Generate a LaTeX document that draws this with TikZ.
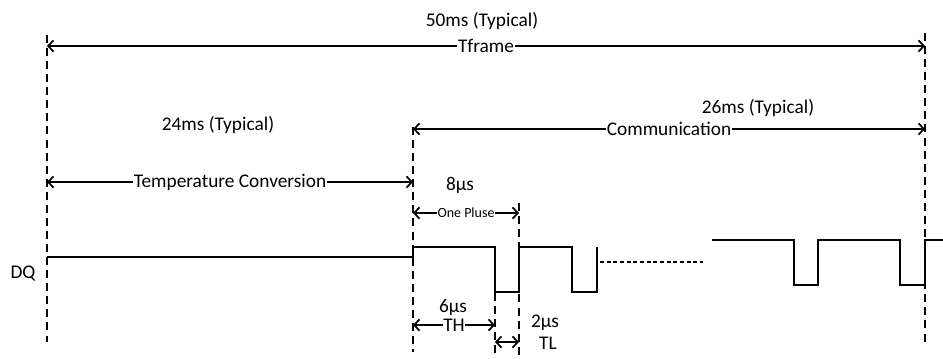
\documentclass[tikz,border=0pt]{standalone}
\usepackage{fontspec}
\setmainfont{Carlito}
\usetikzlibrary{arrows.meta,positioning,calc}
\tikzset{
  guide/.style={line width=1.5pt, dash pattern=on 6pt off 3.8pt},
  dimline/.style={{Straight Barb[length=1.4mm,width=3mm]}-{Straight Barb[length=1.4mm,width=3mm]}, line width=1.3pt},
  dimlabel/.style={fill=white, inner sep=0.5pt, font=\fontsize{14.5}{17}\selectfont},
  smalllabel/.style={fill=white, inner sep=0.5pt, font=\fontsize{10.5}{12.5}\selectfont},
  timetext/.style={inner sep=0pt, font=\fontsize{14.5}{17}\selectfont},
  signal/.style={line width=1.5pt, line join=miter},
  dotsignal/.style={line width=1.5pt, dash pattern=on 3pt off 2pt}
}

\begin{document}
\begin{tikzpicture}[x=0.75pt, y=-0.75pt]
\useasboundingbox (0,0) rectangle (943,358);

% guide lines
\coordinate (gAt) at (47,35);   \coordinate (gAb) at (47,342);
\coordinate (gBt) at (413,127); \coordinate (gBb) at (413,352);
\coordinate (gCt) at (519,203); \coordinate (gCb) at (519,358);
\coordinate (gDt) at (495,293); \coordinate (gDb) at (495,358);
\coordinate (gEt) at (925,33);  \coordinate (gEb) at (925,345);
\draw[guide] (gAt) -- (gAb);
\draw[guide] (gBt) -- (gBb);
\draw[guide] (gCt) -- (gCb);
\draw[guide] (gDt) -- (gDb);
\draw[guide] (gEt) -- (gEb);

% timing texts
\node[timetext] (t50) at (482,21) {50ms (Typical)};
\node[timetext] (t26) at (758,108) {26ms (Typical)};
\node[timetext] (t24) at (218,125) {24ms (Typical)};
\node[timetext] (t8) at (460,185) {8µs};
\node[timetext] (t6) at (453,308) {6µs};
\node[timetext] (t2) at (545,323) {2µs};
\node[timetext] (tl) at (548,343) {TL};
\node[timetext] (dq) at (23,273) {DQ};

% dimension arrows
\draw[dimline] (47,46) -- node[dimlabel] (tf) {Tframe} (925,46);
\draw[dimline] (413,129) -- node[dimlabel] (com) {Communication} (925,129);
\draw[dimline] (47,182) -- node[dimlabel] (tc) {Temperature Conversion} (413,182);
\draw[dimline] (413,213) -- node[smalllabel] (op) {One Pluse} (519,213);
\draw[dimline] (413,325) -- node[dimlabel] (th) {TH} (495,325);
\draw[dimline] (495,342) -- (519,342);

% DQ waveform
\draw[signal] (47,257) -- (413,257) -- (413,247) -- (495,247) -- (495,292)
  -- (519,292) -- (519,247) -- (572,247) -- (572,292) -- (597,292) -- (597,247);
\draw[dotsignal] (600,262) -- (703,262);
\draw[signal] (712,240) -- (794,240) -- (794,285) -- (818,285) -- (818,240)
  -- (900,240) -- (900,285) -- (925,285) -- (925,240) -- (943,240);
\end{tikzpicture}
\end{document}
